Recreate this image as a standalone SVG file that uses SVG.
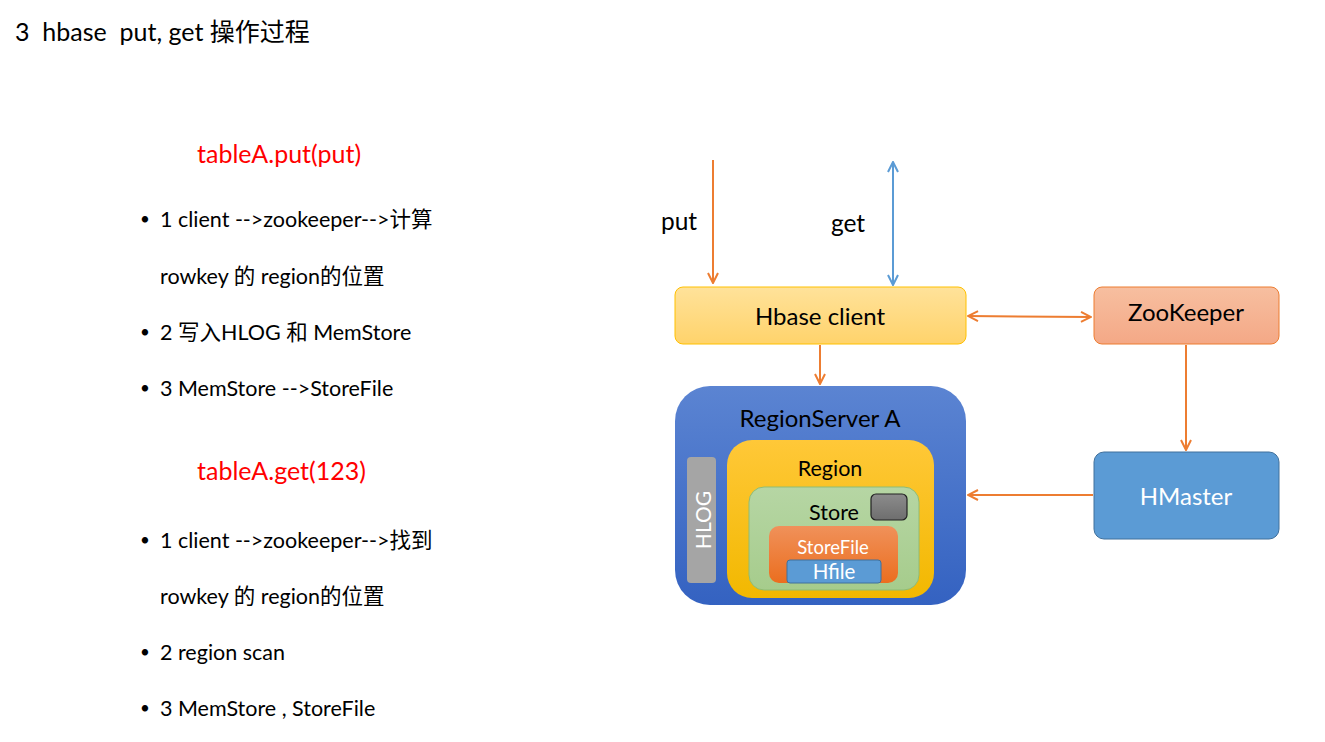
<svg xmlns="http://www.w3.org/2000/svg" width="1325" height="742" viewBox="0 0 1325 742">
<defs>
<style>
text{font-family:Lato,"Noto Sans","Noto Sans CJK SC",sans-serif;}
.t{font-size:21.5px;fill:#000;}
.b{font-size:17px;fill:#000;}
.red{font-size:25px;fill:#FF0000;}
.lbl{font-size:24px;fill:#000;text-anchor:middle;}
.wl{fill:#fff;text-anchor:middle;}
.or{stroke:#ED7D31;stroke-width:2;fill:none;}
.bl{stroke:#5B9BD5;stroke-width:2;fill:none;}
</style>
<marker id="ao" viewBox="0 0 12 12" refX="11" refY="6" markerWidth="12" markerHeight="12" markerUnits="userSpaceOnUse" orient="auto-start-reverse"><path d="M1,1 L11,6 L1,11" fill="none" stroke="#ED7D31" stroke-width="2"/></marker>
<marker id="ab" viewBox="0 0 12 12" refX="11" refY="6" markerWidth="12" markerHeight="12" markerUnits="userSpaceOnUse" orient="auto-start-reverse"><path d="M1,1 L11,6 L1,11" fill="none" stroke="#5B9BD5" stroke-width="2"/></marker>
<linearGradient id="gy" x1="0" y1="0" x2="0" y2="1"><stop offset="0" stop-color="#FFE29A"/><stop offset="1" stop-color="#FFD36B"/></linearGradient>
<linearGradient id="gz" x1="0" y1="0" x2="0" y2="1"><stop offset="0" stop-color="#F7BFA0"/><stop offset="1" stop-color="#F4A886"/></linearGradient>
<linearGradient id="gb" x1="0" y1="0" x2="0" y2="1"><stop offset="0" stop-color="#5B84D2"/><stop offset="1" stop-color="#3462C1"/></linearGradient>
<linearGradient id="gr" x1="0" y1="0" x2="0" y2="1"><stop offset="0" stop-color="#FFC838"/><stop offset="1" stop-color="#F2B800"/></linearGradient>
<linearGradient id="gs" x1="0" y1="0" x2="0" y2="1"><stop offset="0" stop-color="#B6D6A4"/><stop offset="1" stop-color="#A6CC8C"/></linearGradient>
<linearGradient id="gf" x1="0" y1="0" x2="0" y2="1"><stop offset="0" stop-color="#F0915A"/><stop offset="1" stop-color="#EB6E1F"/></linearGradient>
<linearGradient id="gg" x1="0" y1="0" x2="0" y2="1"><stop offset="0" stop-color="#8C8C8C"/><stop offset="1" stop-color="#6E6E6E"/></linearGradient>
</defs>
<rect width="1325" height="742" fill="#fff"/>
<text x="15" y="41" style="font-size:25px" xml:space="preserve">3  hbase  put, get 操作过程</text>
<g id="text-put">
<text class="red" x="197" y="163">tableA.put(put)</text>
<text class="b" x="140" y="225">•</text><text class="t" x="160" y="227">1 client --&gt;zookeeper--&gt;计算</text>
<text class="t" x="160" y="284">rowkey 的 region的位置</text>
<text class="b" x="140" y="338">•</text><text class="t" x="160" y="340">2 写入HLOG 和 MemStore</text>
<text class="b" x="140" y="394">•</text><text class="t" x="160" y="396">3 MemStore --&gt;StoreFile</text>
</g>
<g id="text-get">
<text class="red" x="197" y="480">tableA.get(123)</text>
<text class="b" x="140" y="546">•</text><text class="t" x="160" y="548">1 client --&gt;zookeeper--&gt;找到</text>
<text class="t" x="160" y="604">rowkey 的 region的位置</text>
<text class="b" x="140" y="658">•</text><text class="t" x="160" y="660">2 region scan</text>
<text class="b" x="140" y="714">•</text><text class="t" x="160" y="716">3 MemStore , StoreFile</text>
</g>
<g id="connectors">
<line class="or" x1="713" y1="160" x2="713" y2="283" marker-end="url(#ao)"/>
<line class="bl" x1="893" y1="162" x2="893" y2="285" marker-start="url(#ab)" marker-end="url(#ab)"/>
<line class="or" x1="968" y1="316" x2="1091" y2="317" marker-start="url(#ao)" marker-end="url(#ao)"/>
<line class="or" x1="820" y1="345" x2="820" y2="384" marker-end="url(#ao)"/>
<line class="or" x1="1186" y1="345" x2="1186" y2="450" marker-end="url(#ao)"/>
<line class="or" x1="1093" y1="495" x2="968" y2="495" marker-end="url(#ao)"/>
<text class="lbl" x="679" y="230" style="font-size:24.5px">put</text>
<text class="lbl" x="848" y="232" style="font-size:24.5px">get</text>
</g>
<g id="hbase-client">
<rect x="675" y="287" width="291" height="57" rx="8" fill="url(#gy)" stroke="#FFC000" stroke-width="1"/>
<text class="lbl" x="820" y="325">Hbase client</text>
</g>
<g id="zookeeper">
<rect x="1094" y="287" width="185" height="57" rx="8" fill="url(#gz)" stroke="#ED7D31" stroke-width="1"/>
<text class="lbl" x="1186" y="321">ZooKeeper</text>
</g>
<g id="hmaster">
<rect x="1094" y="452" width="185" height="87" rx="10" fill="#5B9BD5" stroke="#41719C" stroke-width="1"/>
<text class="wl" x="1186" y="505" style="font-size:24px">HMaster</text>
</g>
<g id="regionserver">
<rect x="675" y="386" width="291" height="219" rx="35" fill="url(#gb)"/>
<text class="lbl" x="820" y="427">RegionServer A</text>
</g>
<g id="hlog">
<rect x="687" y="457" width="29" height="126" rx="4" fill="#A5A5A5"/>
<text class="wl" transform="translate(711 520) rotate(-90)" style="font-size:21px">HLOG</text>
</g>
<g id="region">
<rect x="727" y="440" width="207" height="158" rx="25" fill="url(#gr)"/>
<text class="lbl" x="830" y="476" style="font-size:21.5px">Region</text>
</g>
<g id="store">
<rect x="749" y="487" width="170" height="103" rx="15" fill="url(#gs)" stroke="#8FBC74" stroke-width="1"/>
<text class="lbl" x="834" y="520" style="font-size:21.5px">Store</text>
</g>
<g id="memstore">
<rect x="871" y="494" width="36" height="26" rx="5" fill="url(#gg)" stroke="#222" stroke-width="1.2"/>
</g>
<g id="storefile">
<rect x="769" y="526" width="129" height="57" rx="10" fill="url(#gf)"/>
<text class="wl" x="833" y="554" style="font-size:18.5px">StoreFile</text>
</g>
<g id="hfile">
<rect x="787" y="560" width="94" height="23" rx="3" fill="#5B9BD5" stroke="#41719C" stroke-width="1"/>
<text class="wl" x="834" y="579" style="font-size:20.5px">Hfile</text>
</g>
</svg>
